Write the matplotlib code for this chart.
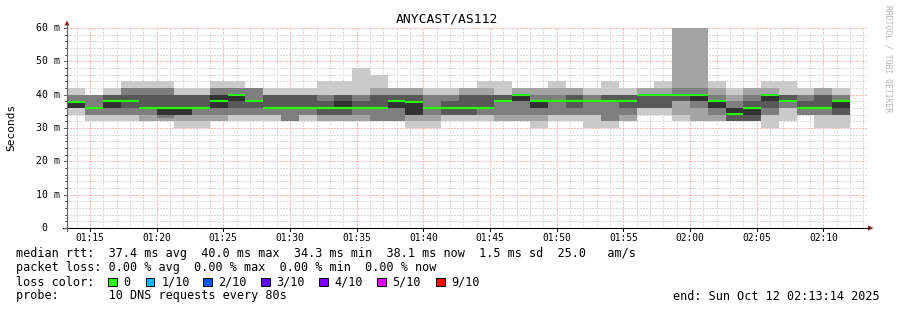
import matplotlib
matplotlib.use("Agg")
import matplotlib.pyplot as plt
from matplotlib.lines import Line2D
from matplotlib.patches import Polygon, Rectangle

W, H = 897, 310

title = "ANYCAST/AS112"
y_title = "Seconds"
watermark = "RRDTOOL / TOBI OETIKER"

# time window shown and the 80 s probe steps
x_start = "01:13:17"
x_end = "02:13:21"
step_first = "01:13:20"
step_sec = 80

# 10 sorted rtts (ms) for every step
pings = [
    [34, 36, 36, 36, 36, 38, 38, 40, 40, 42],
    [32, 34, 34, 36, 36, 36, 36, 40, 40, 40],
    [32, 34, 34, 36, 36, 38, 40, 40, 40, 42],
    [32, 34, 34, 36, 38, 38, 40, 42, 42, 44],
    [32, 32, 34, 36, 36, 36, 40, 42, 42, 44],
    [32, 32, 33, 34, 34, 36, 40, 42, 42, 44],
    [30, 32, 34, 34, 34, 36, 40, 40, 40, 42],
    [30, 32, 34, 36, 36, 36, 40, 40, 40, 42],
    [32, 32, 34, 36, 36, 40, 40, 42, 42, 44],
    [32, 34, 34, 36, 38, 40, 40, 42, 42, 44],
    [32, 34, 34, 36, 38, 38, 38, 42, 42, 42],
    [32, 34, 34, 36, 36, 36, 40, 40, 40, 42],
    [32, 32, 32, 36, 36, 36, 40, 40, 40, 42],
    [32, 34, 34, 36, 36, 36, 40, 40, 40, 42],
    [32, 32, 34, 34, 36, 36, 38, 40, 40, 44],
    [32, 32, 34, 34, 36, 38, 40, 40, 40, 44],
    [32, 32, 34, 36, 36, 36, 38, 40, 40, 48],
    [32, 32, 32, 36, 36, 36, 40, 40, 42, 46],
    [32, 32, 32, 36, 36, 38, 40, 40, 42, 42],
    [30, 32, 34, 34, 34, 38, 40, 40, 42, 42],
    [30, 32, 34, 36, 36, 36, 36, 40, 40, 42],
    [32, 34, 34, 34, 36, 36, 38, 40, 40, 42],
    [32, 34, 34, 34, 36, 36, 40, 40, 42, 42],
    [32, 34, 34, 36, 36, 36, 40, 40, 42, 44],
    [32, 32, 34, 38, 38, 38, 40, 40, 40, 44],
    [32, 32, 34, 38, 38, 40, 40, 40, 42, 42],
    [30, 32, 34, 36, 36, 38, 38, 40, 42, 42],
    [32, 34, 34, 38, 38, 38, 38, 40, 42, 44],
    [32, 34, 34, 36, 38, 38, 40, 40, 42, 42],
    [30, 34, 34, 38, 38, 38, 38, 40, 40, 42],
    [30, 32, 32, 38, 38, 38, 40, 40, 40, 44],
    [32, 32, 34, 36, 38, 38, 40, 40, 40, 42],
    [34, 36, 36, 36, 40, 40, 40, 40, 42, 42],
    [34, 36, 36, 36, 40, 40, 40, 40, 42, 44],
    [32, 34, 38, 38, 40, 40, 40, 42, 60, 60],
    [32, 32, 36, 38, 38, 40, 40, 42, 60, 60],
    [32, 32, 34, 36, 36, 38, 38, 40, 42, 44],
    [32, 32, 32, 32, 34, 36, 36, 38, 40, 42],
    [32, 32, 32, 32, 34, 36, 38, 40, 42, 42],
    [30, 34, 34, 36, 38, 40, 40, 40, 42, 44],
    [32, 36, 36, 38, 38, 38, 40, 40, 40, 44],
    [34, 34, 34, 36, 36, 36, 38, 40, 40, 42],
    [30, 34, 34, 36, 36, 36, 40, 40, 42, 42],
    [30, 34, 34, 34, 36, 38, 38, 40, 40, 42],
]
median_rtt = [37.7, 36, 38, 38, 36, 36, 36, 36, 38, 40,
              38, 36, 36, 36, 36, 36, 36, 36, 38, 37.7,
              36, 36, 36, 36, 38, 40, 38, 38, 38, 38,
              38, 38.1, 40, 40, 40, 40, 38, 34.3, 36, 40,
              38, 36, 36, 38.1]

x_ticks = ["01:15", "01:20", "01:25", "01:30", "01:35", "01:40",
           "01:45", "01:50", "01:55", "02:00", "02:05", "02:10"]
y_ticks = [0, 10, 20, 30, 40, 50, 60]
y_tick_labels = ["0", "10 m", "20 m", "30 m", "40 m", "50 m", "60 m"]

loss_labels = ["0", "1/10", "2/10", "3/10", "4/10", "5/10", "9/10"]
loss_colors = ["#26ff00", "#00b8ff", "#0059ff", "#5e00ff",
               "#7e00ff", "#dd00ff", "#ff0000"]

legend_rtt = ("median rtt:  37.4 ms avg  40.0 ms max  34.3 ms min  "
              "38.1 ms now  1.5 ms sd  25.0   am/s")
legend_loss = "packet loss: 0.00 % avg  0.00 % max  0.00 % min  0.00 % now"
legend_probe = "probe:       10 DNS requests every 80s"
legend_end = "end: Sun Oct 12 02:13:14 2025"


def minutes(s):
    parts = [int(v) for v in s.split(":")]
    while len(parts) < 3:
        parts.append(0)
    return parts[0] * 60 + parts[1] + parts[2] / 60.0


def fx(x):
    return x / W


def fy(y):
    return 1 - y / H


plt.rcParams['font.family'] = 'DejaVu Sans Mono'

fig = plt.figure(figsize=(W / 100, H / 100), dpi=100, facecolor='white')
ax = fig.add_axes([fx(67), fy(228), 801 / W, 200 / H])
ax.set_xlim(minutes(x_start), minutes(x_end))
ax.set_ylim(0, 60)
ax.axis('off')

t_lo, t_hi = minutes(x_start), minutes(x_end)

# grid: minor every minute / 2 m, major every 5 min / 10 m
minor_col, major_col = '#d9d9d9', '#f6b8b8'
m = int(t_lo) + 1
while m < t_hi:
    major = (m % 5 == 0)
    ax.axvline(m, color=major_col if major else minor_col, lw=1.0,
               ls=(0, (1, 1)), antialiased=False, zorder=1)
    m += 1
for v in range(2, 61, 2):
    major = (v % 10 == 0)
    ax.axhline(v, color=major_col if major else minor_col, lw=1.0,
               ls=(0, (1, 1)), antialiased=False, zorder=1)

# smoke
step = step_sec / 60.0
t0 = minutes(step_first)
starts = [t0 + k * step for k in range(len(pings))]
grays = [202, 164, 126, 88, 50]
for i, g in enumerate(grays):
    lo = [p[i] for p in pings]
    hi = [p[9 - i] for p in pings]
    ax.bar(starts, [h - l for h, l in zip(hi, lo)], width=step, bottom=lo,
           align='edge', color='#%02x%02x%02x' % (g, g, g), linewidth=0,
           antialiased=False, zorder=2 + i)

ax.hlines(median_rtt, starts, [s + step for s in starts], colors=loss_colors[0],
          lw=1.5, zorder=10)

# tick labels
for lab in x_ticks:
    ax.text(minutes(lab), -0.05, lab, transform=ax.get_xaxis_transform(),
            ha='center', va='center', fontsize=6.9, color='#000000')
for v, lab in zip(y_ticks, y_tick_labels):
    xr = -7 if lab.endswith('m') else -20
    ax.text(xr / 801, v, lab, transform=ax.get_yaxis_transform(),
            ha='right', va='center', fontsize=7.1, color='#000000')

# axes with arrows
fig.add_artist(Line2D([fx(67), fx(67)], [fy(231), fy(24)], color='#606060', lw=0.8))
fig.add_artist(Line2D([fx(63), fx(869)], [fy(228), fy(228)], color='#000000', lw=0.8))
fig.add_artist(Polygon([(fx(64.5), fy(25.5)), (fx(69.5), fy(25.5)), (fx(67), fy(20.5))],
                       closed=True, color='#8b1a1a', lw=0))
fig.add_artist(Polygon([(fx(868), fy(225.5)), (fx(868), fy(230.5)), (fx(873.5), fy(228))],
                       closed=True, color='#8b1a1a', lw=0))
for lab in x_ticks:
    xp = 67 + (minutes(lab) - t_lo) / (t_hi - t_lo) * 801
    fig.add_artist(Line2D([fx(xp), fx(xp)], [fy(228), fy(231)], color='#000000', lw=0.7))
for v in range(0, 61, 2):
    yp = 228 - v / 60 * 200
    ln = 3 if v % 10 == 0 else 2
    fig.add_artist(Line2D([fx(67 - ln), fx(67)], [fy(yp), fy(yp)], color='#606060', lw=0.7))

# titles
fig.text(fx(447), fy(19), title, ha='center', va='center', fontsize=9.4)
fig.text(fx(11), fy(127), y_title, ha='center', va='center', rotation=90, fontsize=8)
fig.text(fx(888), fy(59), watermark, ha='center', va='center', rotation=270,
         fontsize=5.8, color='#b4b4b4')

# legend
fs = 8.5
fig.text(fx(16), fy(254), legend_rtt, ha='left', va='center', fontsize=fs)
fig.text(fx(16), fy(268), legend_loss, ha='left', va='center', fontsize=fs)
fig.text(fx(16), fy(282), "loss color:", ha='left', va='center', fontsize=fs)
box_x = [108, 145.7, 203, 261, 319, 377, 436]
for bx, lab, col in zip(box_x, loss_labels, loss_colors):
    fig.add_artist(Rectangle((fx(bx), fy(286)), 8.5 / W, 8.5 / H, facecolor=col,
                             edgecolor='#000000', lw=0.7))
    fig.text(fx(bx + 15.5), fy(282), lab, ha='left', va='center', fontsize=fs)
fig.text(fx(16), fy(296), legend_probe, ha='left', va='center', fontsize=fs)
fig.text(fx(880), fy(296.5), legend_end, ha='right', va='center', fontsize=fs)

fig.savefig("out.png", dpi=100, facecolor='white')
